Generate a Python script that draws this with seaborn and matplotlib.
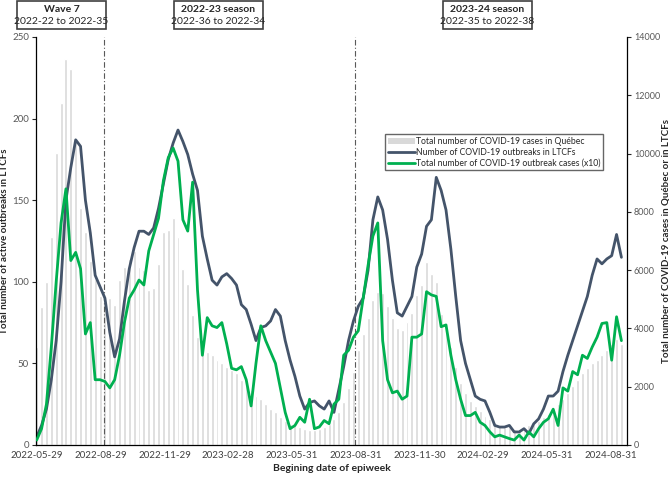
import matplotlib
matplotlib.use("Agg")
import matplotlib.pyplot as plt
import matplotlib.dates as mdates
from matplotlib.patches import Rectangle, Patch
from matplotlib.lines import Line2D
import seaborn as sns
import pandas as pd

sns.set_style("ticks")
plt.rcParams['font.family'] = ['Lato', 'DejaVu Sans']

# weekly data, first epiweek 2022-22 (2022-05-29) to 2024-38
first_week = "2022-05-29"

# total number of COVID-19 cases in Quebec (right axis)
quebec_cases = [
    3360, 4740, 5600, 7150, 10020, 11740, 13260, 12910, 10360, 8120,
    7310, 6330, 5710, 5100, 4930, 5040, 4820, 5660, 6100, 6380,
    6660, 6100, 5990, 5320, 5380, 6220, 7310, 7390, 7780, 7150,
    6050, 5540, 4460, 3700, 3360, 3190, 3080, 2910, 2800, 2690,
    2580, 2460, 2240, 2070, 1900, 1680, 1570, 1400, 1230, 1120,
    950, 840, 730, 670, 620, 560, 500, 500, 560, 620,
    730, 900, 1120, 1460, 1960, 2520, 3250, 3810, 4350, 4980,
    5260, 5210, 4760, 4370, 4030, 3950, 4230, 4520, 5150, 5490,
    6270, 5880, 5600, 4480, 4030, 3360, 2690, 2130, 1790, 1510,
    1340, 1180, 1010, 900, 780, 670, 620, 620, 560, 560,
    620, 670, 730, 840, 950, 1060, 1230, 1400, 1570, 1790,
    2020, 2240, 2460, 2630, 2800, 2910, 3080, 3250, 3470, 3640,
    3470,
]

# number of COVID-19 outbreaks in LTCFs (left axis)
ltcf_outbreaks = [
    5, 12, 22, 40, 64, 100, 150, 170, 187, 183,
    150, 130, 104, 97, 90, 69, 54, 65, 88, 108,
    121, 131, 131, 129, 133, 145, 160, 175, 185, 193,
    186, 178, 166, 156, 128, 114, 101, 98, 103, 105,
    102, 98, 86, 83, 74, 64, 72, 73, 76, 83,
    79, 64, 52, 42, 30, 22, 26, 27, 24, 22,
    27, 20, 34, 48, 64, 76, 85, 90, 107, 138,
    152, 144, 126, 101, 81, 79, 85, 91, 109, 117,
    134, 138, 164, 156, 144, 120, 91, 64, 50, 40,
    30, 28, 27, 20, 12, 11, 11, 12, 8, 8,
    10, 7, 13, 16, 22, 30, 30, 33, 45, 55,
    64, 73, 82, 91, 104, 114, 111, 114, 116, 129,
    115,
]

# total number of COVID-19 outbreak cases x10 (right axis)
outbreak_cases_x10 = [
    170, 560, 1400, 3360, 5600, 7620, 8790, 6330, 6610, 6050,
    3810, 4200, 2240, 2240, 2180, 1960, 2240, 3080, 4200, 5040,
    5320, 5660, 5490, 6660, 7220, 7780, 9070, 9860, 10190, 9740,
    7730, 7340, 9020, 5320, 3080, 4370, 4090, 4030, 4200, 3470,
    2630, 2580, 2690, 2240, 1340, 2800, 4090, 3580, 3190, 2800,
    1960, 1120, 560, 670, 950, 780, 1570, 560, 620, 840,
    730, 1400, 1570, 3080, 3250, 3700, 3920, 5040, 6160, 7170,
    7620, 3580, 2240, 1790, 1850, 1570, 1680, 3700, 3700, 3810,
    5260, 5150, 5100, 4060, 4120, 3080, 2240, 1570, 1010, 1010,
    1120, 780, 670, 450, 280, 340, 280, 220, 170, 340,
    170, 450, 280, 560, 780, 900, 1230, 670, 1960, 1850,
    2520, 2410, 3080, 2970, 3360, 3700, 4170, 4200, 2910, 4400,
    3580,
]

tick_dates = ["2022-05-29", "2022-08-29", "2022-11-29", "2023-02-28", "2023-05-31",
              "2023-08-31", "2023-11-30", "2024-02-29", "2024-05-31", "2024-08-31"]
season_breaks = ["2022-09-02", "2023-08-29"]
period_titles = ["Wave 7", "2022-23 season", "2023-24 season"]
period_ranges = ["2022-22 to 2022-35", "2022-36 to 2022-34", "2022-35 to 2022-38"]

weeks = pd.date_range(first_week, periods=len(quebec_cases), freq="7D")
df = pd.DataFrame({"week": weeks, "cases": quebec_cases,
                   "outbreaks": ltcf_outbreaks, "outbreak_cases": outbreak_cases_x10})

W, H = 669, 478
fig = plt.figure(figsize=(W / 100, H / 100), dpi=100)
ax = fig.add_axes([36 / W, 1 - 445 / H, 591 / W, 408 / H])
ax_out = ax.twinx()
ax_g = ax.twinx()

grey, navy, green = "#d9d9d9", "#44546a", "#00b050"

# bars (cases in Quebec) at the back
ax.bar(mdates.date2num(df["week"]), df["cases"], width=4.2, color=grey, zorder=1)
for d in season_breaks:
    ax.axvline(pd.Timestamp(d), color="#595959", lw=0.8, ls=(0, (5, 2, 1, 2)), zorder=2)

sns.lineplot(data=df, x="week", y="outbreaks", ax=ax_out, color=navy, lw=2)
sns.lineplot(data=df, x="week", y="outbreak_cases", ax=ax_g, color=green, lw=2)

ax.set_ylim(0, 14000)
ax_g.set_ylim(0, 14000)
ax_out.set_ylim(0, 250)
ax.set_xlim(pd.Timestamp("2022-05-28"), pd.Timestamp("2024-09-23"))
ax.set_xticks(pd.to_datetime(tick_dates))
ax.xaxis.set_major_formatter(mdates.DateFormatter("%Y-%m-%d"))

# cases axis on the right, outbreaks axis on the left
ax.yaxis.tick_right()
ax.yaxis.set_label_position("right")
ax.set_yticks(range(0, 14001, 2000))
ax_out.yaxis.tick_left()
ax_out.yaxis.set_label_position("left")
ax_out.set_yticks(range(0, 251, 50))
ax_g.set_yticks([])
ax_g.set_ylabel("")

for a in (ax, ax_out, ax_g):
    for s in a.spines.values():
        s.set_visible(False)
ax.spines["right"].set_visible(True)
ax.spines["bottom"].set_visible(True)
ax_out.spines["left"].set_visible(True)
for a in (ax, ax_out):
    for s in a.spines.values():
        s.set_color("black")
        s.set_linewidth(0.9)

ax.tick_params(axis="y", labelsize=6.5, labelcolor="#595959", length=3, width=0.8, pad=2)
ax_out.tick_params(axis="y", labelsize=7, labelcolor="#595959", length=3, width=0.8, pad=2)
ax.tick_params(axis="x", labelsize=7, labelcolor="#404040", length=0, pad=4)

ax_out.set_ylabel("Total number of active outbreaks in LTCFs", fontsize=7, fontweight="bold", labelpad=2)
ax.set_ylabel("Total number of COVID-19 cases in Québec or in LTCFs", fontsize=7, fontweight="bold")
ax.yaxis.set_label_coords((661 - 36) / 591, 0.5)
ax.set_xlabel("Begining date of epiweek", fontsize=7.5, fontweight="bold", labelpad=3)
ax_out.set_xlabel("")

# period boxes along the top
box_edges = [(17, 106), (174, 263), (443, 532)]
for (x0, x1), title, rng in zip(box_edges, period_titles, period_ranges):
    fig.patches.append(Rectangle((x0 / W, 1 - 29 / H), (x1 - x0) / W, 28 / H,
                                 transform=fig.transFigure, fill=False,
                                 edgecolor="#404040", lw=1.2))
    xc = (x0 + x1) / 2 / W
    fig.text(xc, 1 - 9 / H, title, ha="center", va="center", fontsize=7.5, fontweight="bold")
    fig.text(xc, 1 - 21 / H, rng, ha="center", va="center", fontsize=7.5, color="#262626")

handles = [Patch(facecolor=grey, edgecolor="none"),
           Line2D([], [], color=navy, lw=2),
           Line2D([], [], color=green, lw=2)]
labels = ["Total number of COVID-19 cases in Québec",
          "Number of COVID-19 outbreaks in LTCFs",
          "Total number of COVID-19 outbreak cases (x10)"]
leg = fig.legend(handles, labels, loc="upper left", bbox_to_anchor=(385 / W, 1 - 134 / H),
                 fontsize=6.2, frameon=True, fancybox=False, edgecolor="#404040",
                 handlelength=3.2, handletextpad=0.1, borderpad=0.3, labelspacing=0.25,
                 borderaxespad=0)
leg.get_frame().set_linewidth(1.0)

fig.savefig("out.png", dpi=100)
